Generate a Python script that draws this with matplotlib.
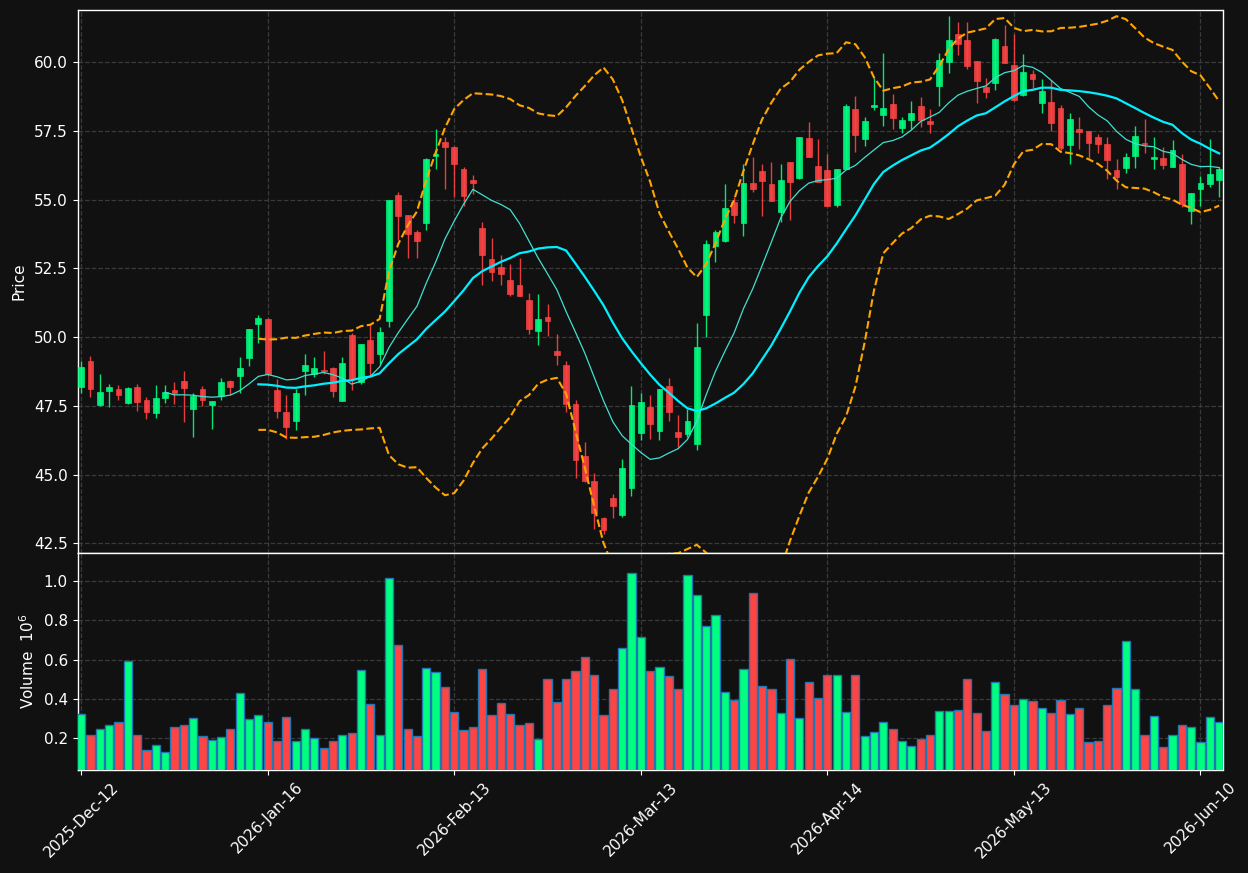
import numpy as np
import pandas as pd
import matplotlib
matplotlib.use("Agg")
import matplotlib.pyplot as plt
from matplotlib.ticker import FuncFormatter, FixedLocator

# ---------------- data ----------------
opens = [48.19, 49.12, 47.53, 48.04, 48.10, 47.60, 48.17, 47.70, 47.24, 47.79,
         48.07, 48.40, 47.39, 48.13, 47.53, 47.86, 48.40, 48.58, 49.24, 50.48,
         50.65, 48.07, 47.27, 46.95, 48.77, 48.67, 48.82, 48.89, 47.68, 50.07,
         48.37, 49.89, 49.39, 50.58, 55.16, 54.43, 53.82, 54.16, 56.58, 57.08,
         56.91, 56.11, 55.72, 53.96, 52.83, 52.53, 52.07, 51.89, 51.34, 50.23,
         50.72, 49.49, 48.98, 47.56, 45.67, 44.76, 43.41, 44.15, 43.52, 44.52,
         46.52, 47.45, 46.59, 48.21, 46.54, 46.47, 46.13, 50.80, 53.32, 53.49,
         54.91, 54.16, 55.61, 56.04, 55.56, 54.56, 56.36, 55.79, 57.24, 56.22,
         56.07, 54.80, 56.12, 58.29, 57.20, 58.38, 58.07, 58.47, 57.61, 57.89,
         58.40, 57.85, 59.13, 60.01, 61.02, 60.80, 60.04, 59.08, 59.25, 60.58,
         59.89, 58.80, 59.56, 58.52, 58.54, 58.33, 56.98, 57.56, 57.49, 57.27,
         57.02, 56.07, 56.16, 56.59, 57.06, 56.48, 56.51, 56.19, 56.29, 54.59,
         55.38, 55.56, 55.71]
highs = [49.12, 49.31, 48.65, 48.29, 48.25, 48.17, 48.31, 47.83, 48.27, 48.25,
         48.37, 48.76, 47.95, 48.24, 47.68, 48.53, 48.43, 49.26, 50.30, 50.82,
         50.70, 48.46, 47.89, 48.13, 49.40, 49.26, 49.49, 48.91, 49.26, 50.15,
         49.76, 50.43, 50.37, 55.00, 55.27, 54.45, 53.91, 56.50, 57.55, 57.26,
         56.93, 56.20, 55.90, 54.18, 53.60, 52.99, 52.64, 52.89, 51.62, 51.56,
         51.19, 50.13, 49.12, 47.73, 46.18, 45.07, 43.45, 44.31, 45.58, 48.21,
         47.97, 47.89, 48.13, 48.53, 47.18, 47.40, 50.53, 53.53, 53.89, 55.55,
         55.10, 56.31, 56.56, 56.31, 56.35, 56.31, 56.38, 57.28, 57.81, 57.19,
         56.65, 56.12, 58.46, 58.78, 57.99, 59.41, 60.32, 58.82, 58.01, 58.58,
         58.74, 58.28, 60.32, 61.67, 61.47, 61.45, 60.05, 59.41, 60.86, 61.35,
         61.02, 60.28, 59.71, 59.37, 59.35, 58.42, 58.13, 57.99, 57.50, 57.40,
         57.26, 56.47, 56.68, 57.67, 57.91, 57.26, 56.92, 57.16, 56.64, 55.24,
         55.87, 57.19, 56.19]
lows = [47.95, 47.83, 47.51, 47.46, 47.73, 47.56, 47.33, 47.04, 47.07, 47.62,
        47.55, 46.92, 46.37, 47.51, 46.67, 47.73, 47.89, 47.97, 48.95, 49.77,
        48.60, 47.07, 46.31, 46.61, 47.91, 48.55, 48.67, 47.83, 47.66, 48.07,
        48.30, 48.55, 49.04, 50.35, 53.52, 52.89, 52.89, 53.91, 56.10, 55.37,
        55.10, 54.76, 55.20, 51.91, 52.03, 51.91, 51.50, 51.48, 50.13, 49.73,
        50.04, 49.00, 47.28, 44.89, 44.75, 43.04, 42.85, 43.44, 43.46, 44.23,
        46.27, 46.31, 46.25, 46.94, 46.01, 46.37, 45.91, 50.01, 52.74, 53.47,
        54.13, 53.68, 55.28, 54.42, 54.95, 54.20, 54.24, 55.73, 56.55, 55.64,
        54.76, 54.74, 56.10, 56.74, 56.96, 58.25, 57.68, 57.56, 57.41, 57.55,
        57.65, 57.41, 58.41, 59.59, 60.26, 59.75, 58.50, 58.68, 58.98, 59.97,
        58.60, 58.76, 59.04, 58.13, 57.50, 56.80, 56.28, 56.82, 56.50, 56.70,
        55.73, 55.40, 55.97, 56.13, 56.70, 56.10, 56.10, 56.18, 54.74, 54.11,
        54.77, 55.44, 55.08]
closes = [48.92, 48.12, 48.00, 48.18, 47.89, 48.14, 47.63, 47.28, 47.78, 48.00,
          47.97, 48.15, 47.85, 47.70, 47.66, 48.36, 48.18, 48.86, 50.28, 50.71,
          48.67, 47.30, 46.73, 47.96, 48.98, 48.89, 48.78, 48.03, 49.07, 48.49,
          49.74, 49.06, 50.18, 54.98, 54.41, 53.75, 53.50, 56.47, 56.64, 56.92,
          56.30, 55.14, 55.60, 52.99, 52.37, 52.30, 51.57, 51.50, 50.30, 50.65,
          50.59, 49.35, 47.58, 45.53, 44.77, 43.61, 42.99, 43.86, 45.23, 47.52,
          47.63, 46.84, 48.11, 47.28, 46.37, 46.95, 49.65, 53.38, 53.82, 54.70,
          54.43, 55.61, 55.39, 55.68, 54.96, 55.71, 55.65, 57.27, 56.56, 55.65,
          54.77, 56.10, 58.40, 57.35, 57.85, 58.44, 58.33, 57.98, 57.89, 58.13,
          57.89, 57.76, 60.07, 60.80, 60.67, 59.87, 59.32, 58.92, 60.84, 59.98,
          58.62, 59.65, 59.40, 58.94, 57.79, 56.88, 57.93, 57.47, 57.07, 57.03,
          56.45, 55.83, 56.53, 57.31, 57.02, 56.54, 56.27, 56.80, 54.82, 55.23,
          55.60, 55.93, 56.11]
volumes_m = [0.326, 0.219, 0.249, 0.270, 0.285, 0.591, 0.219, 0.142, 0.168, 0.132,
             0.259, 0.270, 0.305, 0.214, 0.193, 0.209, 0.249, 0.428, 0.300, 0.321,
             0.285, 0.188, 0.310, 0.188, 0.249, 0.203, 0.152, 0.188, 0.219, 0.229,
             0.545, 0.372, 0.219, 1.014, 0.672, 0.249, 0.214, 0.555, 0.535, 0.463,
             0.336, 0.244, 0.259, 0.550, 0.321, 0.382, 0.326, 0.270, 0.280, 0.198,
             0.499, 0.387, 0.499, 0.540, 0.611, 0.519, 0.321, 0.448, 0.657, 1.039,
             0.713, 0.540, 0.560, 0.514, 0.453, 1.029, 0.927, 0.769, 0.825, 0.433,
             0.397, 0.550, 0.937, 0.468, 0.448, 0.331, 0.601, 0.305, 0.484, 0.407,
             0.519, 0.524, 0.336, 0.524, 0.214, 0.234, 0.285, 0.249, 0.188, 0.163,
             0.198, 0.219, 0.341, 0.341, 0.346, 0.499, 0.331, 0.239, 0.484, 0.423,
             0.367, 0.402, 0.392, 0.356, 0.331, 0.397, 0.326, 0.356, 0.183, 0.188,
             0.367, 0.458, 0.693, 0.448, 0.219, 0.315, 0.158, 0.219, 0.270, 0.259,
             0.183, 0.310, 0.285]
tick_positions = [0, 20, 40, 60, 80, 100, 120]
tick_labels = ["2025-Dec-12", "2026-Jan-16", "2026-Feb-13", "2026-Mar-13",
               "2026-Apr-14", "2026-May-13", "2026-Jun-10"]

# ---------------- derived ----------------
o = np.array(opens); h = np.array(highs); l = np.array(lows); c = np.array(closes)
vol = np.array(volumes_m) * 1e6
x = np.arange(len(c))
cs = pd.Series(c)
ma10 = cs.rolling(10).mean()
ma20 = cs.rolling(20).mean()
sd20 = cs.rolling(20).std(ddof=0)
bb_up = ma20 + 2 * sd20
bb_dn = ma20 - 2 * sd20

BG = "#111111"
UP = "#00ff80"
DOWN = "#ff4444"
GRID = "#3a3a3a"

plt.rcParams.update({
    "font.family": "DejaVu Sans",
    "font.size": 11,
    "xtick.labelsize": 11,
    "ytick.labelsize": 11,
    "axes.labelsize": 11,
    "text.color": "white",
    "axes.labelcolor": "white",
    "xtick.color": "white",
    "ytick.color": "white",
    "axes.edgecolor": "white",
})

fig = plt.figure(figsize=(12.48, 8.73), dpi=100, facecolor=BG)
W, H = 1248, 873
L, R = 77.5, 1222.5
ax = fig.add_axes([L / W, 1 - 552.5 / H, (R - L) / W, (552.5 - 10) / H])
axv = fig.add_axes([L / W, 1 - 770 / H, (R - L) / W, (770 - 552.5) / H], sharex=ax)
for a in (ax, axv):
    a.set_facecolor(BG)
    a.grid(True, linestyle="--", color=GRID, linewidth=0.9)
    a.set_axisbelow(True)
    for s in a.spines.values():
        s.set_color("white")
        s.set_linewidth(1.0)

up = c >= o
colors = np.where(up, UP, DOWN)

# candles
ax.vlines(x, l, h, colors=colors, linewidth=1.0, alpha=0.9, zorder=2)
ax.bar(x, np.abs(c - o), bottom=np.minimum(o, c), width=0.62, color=colors,
       edgecolor=colors, linewidth=0.5, alpha=0.9, zorder=3)

# overlays
ax.plot(x, ma10, color="#40e0d0", linewidth=0.9, zorder=4)
ax.plot(x, ma20, color="#00f0ff", linewidth=1.6, zorder=4)
ax.plot(x, bb_up, color="#ffa500", linestyle="--", linewidth=1.5, zorder=4)
ax.plot(x, bb_dn, color="#ffa500", linestyle="--", linewidth=1.5, zorder=4)

ax.set_ylim(42.17, 61.89)
ax.set_yticks([42.5, 45.0, 47.5, 50.0, 52.5, 55.0, 57.5, 60.0])
ax.yaxis.set_major_formatter(FuncFormatter(lambda v, p: f"{v:.1f}"))
ax.set_ylabel("Price", labelpad=5)
ax.tick_params(axis="x", labelbottom=False, length=0)

# volume
axv.bar(x, vol, width=0.88, color=colors, edgecolor="#1f77b4", linewidth=1.0, zorder=3)
axv.set_ylim(0.3 * vol.min(), 1.1 * vol.max())
axv.set_yticks([0.2e6, 0.4e6, 0.6e6, 0.8e6, 1.0e6])
axv.yaxis.set_major_formatter(FuncFormatter(lambda v, p: f"{v / 1e6:.1f}"))
axv.set_ylabel("Volume  $10^{6}$", labelpad=5)

axv.set_xlim(-0.39, len(c) - 1 + 0.36)
axv.xaxis.set_major_locator(FixedLocator(tick_positions))
axv.set_xticklabels(tick_labels, rotation=45, ha="center")

fig.savefig("out.png", dpi=100, facecolor=BG)
